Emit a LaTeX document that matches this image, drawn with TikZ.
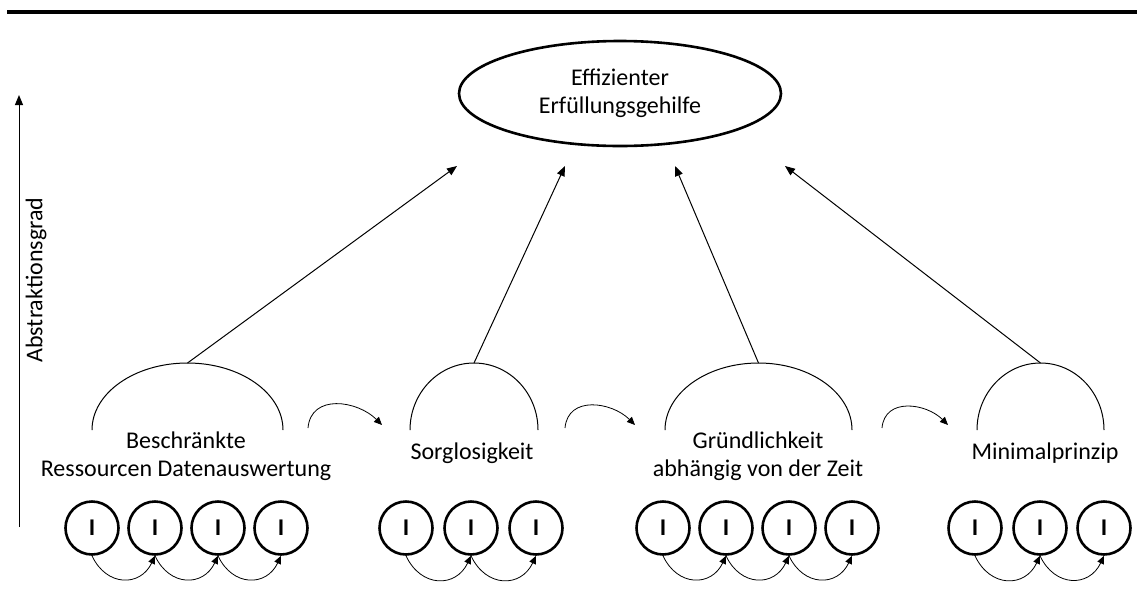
\documentclass[tikz,border=0pt]{standalone}
\usepackage{fontspec}
\setmainfont{Carlito}
\usetikzlibrary{arrows.meta,shapes.geometric}
\begin{document}
\begin{tikzpicture}[x=1pt,y=1pt,
  lbl/.style={font=\fontsize{24}{28}\selectfont, align=center, inner sep=0pt},
  unit/.style={circle, draw, line width=2.6pt, minimum size=53pt, inner sep=0pt,
               font=\fontsize{24}{28}\selectfont\bfseries},
  link/.style={line width=1pt, -{Triangle[length=10pt,width=8pt]}},
  hop/.style={line width=0.8pt, -{Triangle[length=8pt,width=7pt]}},
  dome/.style={line width=1pt},
  chain/.style={hop, out=-65, in=-115, looseness=1.4},
  bridge/.style={hop, out=85, in=135, looseness=1.2}]
\useasboundingbox (0,0) rectangle (1137,-598);

% heading rule
\draw[line width=4pt] (7,-12) -- (1137,-12);

% abstraction axis
\coordinate (axlo) at (19,-527);
\coordinate (axhi) at (19,-95);
\draw[link] (axlo) -- (axhi);
\node[lbl, rotate=90] (axlabel) at (36,-280) {Abstraktionsgrad};

% goal
\node[ellipse, draw, line width=2.6pt, minimum width=322pt, minimum height=105pt, lbl]
  (goal) at (620,-93.5) {Effizienter\\Erfüllungsgehilfe};

% domes over the groups
\draw[dome] (92,-430) arc[start angle=180, end angle=0, x radius=95.5pt, y radius=67pt];
\draw[dome] (410,-430) arc[start angle=180, end angle=0, x radius=64pt, y radius=67pt];
\draw[dome] (665,-430) arc[start angle=180, end angle=0, x radius=93.5pt, y radius=67pt];
\draw[dome] (977,-430) arc[start angle=180, end angle=0, x radius=63.5pt, y radius=67pt];
\coordinate (d1) at (187.5,-363);
\coordinate (d2) at (474,-363);
\coordinate (d3) at (758.5,-363);
\coordinate (d4) at (1040.5,-363);

% arrows to the goal
\coordinate (t1) at (457,-166);
\coordinate (t2) at (565,-166);
\coordinate (t3) at (675,-166);
\coordinate (t4) at (785,-166);
\draw[link] (d1) -- (t1);
\draw[link] (d2) -- (t2);
\draw[link] (d3) -- (t3);
\draw[link] (d4) -- (t4);

% group labels
\node[lbl] (n1) at (186,-456) {Beschränkte\\Ressourcen Datenauswertung};
\node[lbl] (n2) at (472,-453) {Sorglosigkeit};
\node[lbl] (n3) at (758,-456) {Gründlichkeit\\abhängig von der Zeit};
\node[lbl] (n4) at (1045,-453) {Minimalprinzip};

% bridges between groups
\coordinate (b1s) at (308,-428); \coordinate (b1e) at (382,-425);
\coordinate (b2s) at (565,-428); \coordinate (b2e) at (635,-425);
\coordinate (b3s) at (882,-428); \coordinate (b3e) at (948,-425);
\draw[bridge] (b1s) to (b1e);
\draw[bridge] (b2s) to (b2e);
\draw[bridge] (b3s) to (b3e);

% units
\node[unit] (a1) at (92,-528) {I};
\node[unit] (a2) at (155,-528) {I};
\node[unit] (a3) at (218,-528) {I};
\node[unit] (a4) at (281,-528) {I};
\node[unit] (b1) at (406,-528) {I};
\node[unit] (b2) at (471,-528) {I};
\node[unit] (b3) at (536,-528) {I};
\node[unit] (c1) at (663,-528) {I};
\node[unit] (c2) at (726,-528) {I};
\node[unit] (c3) at (789,-528) {I};
\node[unit] (c4) at (852,-528) {I};
\node[unit] (e1) at (975,-528) {I};
\node[unit] (e2) at (1040,-528) {I};
\node[unit] (e3) at (1104,-528) {I};

% sequence arrows under the units
\draw[chain] (a1.south) to (a2.south);
\draw[chain] (a2.south) to (a3.south);
\draw[chain] (a3.south) to (a4.south);
\draw[chain] (b1.south) to (b2.south);
\draw[chain] (b2.south) to (b3.south);
\draw[chain] (c1.south) to (c2.south);
\draw[chain] (c2.south) to (c3.south);
\draw[chain] (c3.south) to (c4.south);
\draw[chain] (e1.south) to (e2.south);
\draw[chain] (e2.south) to (e3.south);
\end{tikzpicture}
\end{document}
